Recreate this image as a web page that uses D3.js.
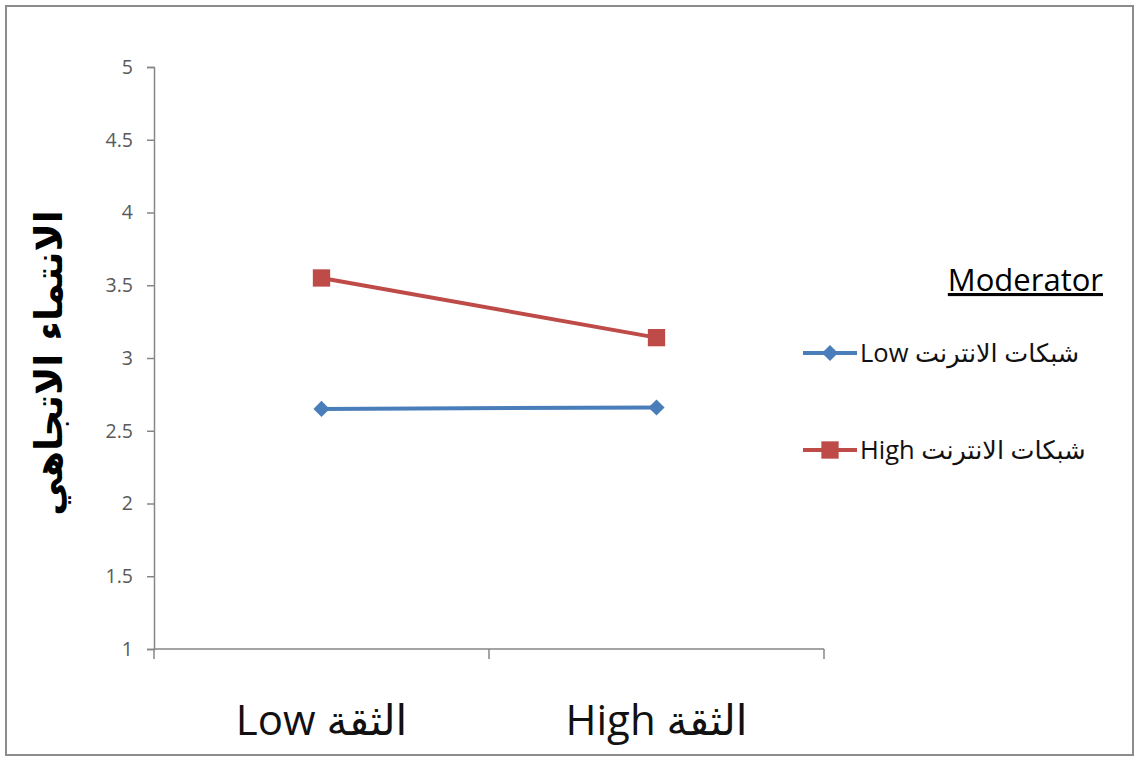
<!DOCTYPE html>
<html>
<head>
<meta charset="utf-8">
<script src="https://cdn.jsdelivr.net/npm/d3@7"></script>
<style>
  html, body { margin: 0; padding: 0; background: #fff; }
  svg { display: block; }
</style>
</head>
<body>
<svg id="chart" width="1139" height="761"></svg>
<script>
// Interaction plot: trust (x) by internet networks moderator
const categories = ["Low الثقة", "High الثقة"];
const seriesNames = ["Low شبكات الانترنت", "High شبكات الانترنت"];
const lowValues = [2.65, 2.66];
const highValues = [3.55, 3.14];
const yTicks = [1, 1.5, 2, 2.5, 3, 3.5, 4, 4.5, 5];
const yTitle = "الانتماء الاتجاهي";
const legendTitle = "Moderator";

const svg = d3.select("#chart");
const W = 1139, H = 761;

// outer chart frame
svg.append("rect")
  .attr("x", 6).attr("y", 6).attr("width", W - 12).attr("height", H - 12)
  .attr("fill", "#fff").attr("stroke", "#8c8c8c").attr("stroke-width", 2);

const plot = { left: 154, right: 824, top: 67, bottom: 649 };

const x = d3.scaleBand().domain(categories).range([plot.left, plot.right]);
const y = d3.scaleLinear().domain([1, 5]).range([plot.bottom, plot.top]);

const axisColor = "#868686";
const labelColor = "#595959";

// y axis
const yAxis = svg.append("g")
  .attr("transform", `translate(${plot.left},0)`)
  .call(d3.axisLeft(y).tickValues(yTicks).tickSize(7).tickPadding(14)
    .tickFormat(d => String(d)));
yAxis.select(".domain").attr("stroke", axisColor).attr("stroke-width", 1.5);
yAxis.selectAll(".tick line").attr("stroke", axisColor).attr("stroke-width", 1.5);
yAxis.selectAll(".tick text")
  .attr("fill", labelColor)
  .style("font-family", "'Open Sans', 'Noto Sans', sans-serif")
  .style("font-size", "19.5px");

// x axis: ticks at band boundaries
const xAxisG = svg.append("g").attr("transform", `translate(0,${plot.bottom})`);
xAxisG.append("line")
  .attr("x1", plot.left).attr("x2", plot.right)
  .attr("stroke", axisColor).attr("stroke-width", 1.5);
const boundaries = [plot.left].concat(categories.map(c => x(c) + x.bandwidth()));
xAxisG.selectAll("line.tk").data(boundaries).join("line")
  .attr("class", "tk")
  .attr("x1", d => d).attr("x2", d => d)
  .attr("y1", 0).attr("y2", 10)
  .attr("stroke", axisColor).attr("stroke-width", 1.5);
xAxisG.selectAll("text").data(categories).join("text")
  .attr("x", d => x(d) + x.bandwidth() / 2)
  .attr("y", 86)
  .attr("text-anchor", "middle")
  .attr("fill", "#111")
  .style("font-family", "'Open Sans', 'DejaVu Sans', sans-serif")
  .style("font-size", "42px")
  .text(d => d);

// y axis title
svg.append("text")
  .attr("transform", `translate(62,${(plot.top + plot.bottom) / 2 + 5}) rotate(-90)`)
  .attr("text-anchor", "middle")
  .attr("direction", "rtl")
  .attr("fill", "#000")
  .style("font-family", "'DejaVu Sans', sans-serif")
  .style("font-weight", "bold")
  .style("font-size", "38px")
  .text(yTitle);

// series
const diamond = d3.symbol().type(d3.symbolSquare).size(130);
const square = d3.symbol().type(d3.symbolSquare).size(300);
const series = [
  { name: seriesNames[0], values: lowValues, color: "#4A7EBB", path: diamond, rot: 45 },
  { name: seriesNames[1], values: highValues, color: "#BE4B48", path: square, rot: 0 }
];

const line = d3.line()
  .x((d, i) => x(categories[i]) + x.bandwidth() / 2)
  .y(d => y(d));

series.forEach(s => {
  svg.append("path")
    .datum(s.values)
    .attr("d", line)
    .attr("fill", "none")
    .attr("stroke", s.color)
    .attr("stroke-width", 4);
  svg.selectAll(null).data(s.values).join("path")
    .attr("transform", (d, i) => `translate(${x(categories[i]) + x.bandwidth() / 2},${y(d)}) rotate(${s.rot})`)
    .attr("d", s.path())
    .attr("fill", s.color);
});

// legend
svg.append("text")
  .attr("x", 1103).attr("y", 291)
  .attr("text-anchor", "end")
  .attr("fill", "#000")
  .attr("text-decoration", "underline")
  .style("font-family", "'Open Sans', sans-serif")
  .style("font-size", "31px")
  .text(legendTitle);

const legendY = [353, 450];
series.forEach((s, i) => {
  const g = svg.append("g").attr("transform", `translate(0,${legendY[i]})`);
  g.append("line")
    .attr("x1", 803).attr("x2", 857)
    .attr("stroke", s.color).attr("stroke-width", 4);
  g.append("path")
    .attr("transform", `translate(830,0) rotate(${s.rot})`)
    .attr("d", s.path())
    .attr("fill", s.color);
  g.append("text")
    .attr("x", 860).attr("y", 9)
    .attr("fill", "#111")
    .style("font-family", "'Open Sans', 'DejaVu Sans', sans-serif")
    .style("font-size", "25.5px")
    .text(s.name);
});
</script>
</body>
</html>
